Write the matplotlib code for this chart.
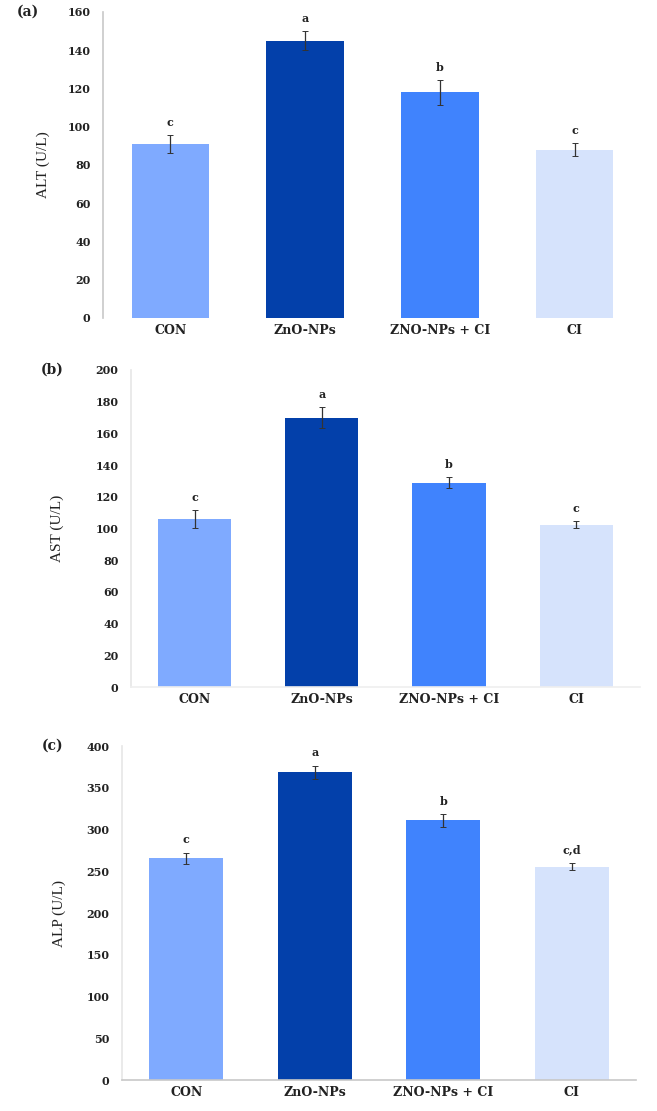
import matplotlib
matplotlib.use("Agg")
import matplotlib.pyplot as plt
import numpy as np

categories = ["CON", "ZnO-NPs", "ZNO-NPs + CI", "CI"]
colors = ["#7FAAFF", "#0340AA", "#4083FD", "#D6E3FC"]

alt_values = [91, 145, 118, 88]
alt_errors = [4.7, 5.0, 6.5, 3.5]
alt_letters = ["c", "a", "b", "c"]

ast_values = [106, 170, 129, 102.5]
ast_errors = [5.6, 6.5, 3.6, 2.0]
ast_letters = ["c", "a", "b", "c"]

alp_values = [265.5, 368.5, 311, 255.5]
alp_errors = [6.8, 8.0, 7.5, 4.5]
alp_letters = ["c", "a", "b", "c,d"]

plt.rcParams['font.family'] = ['Liberation Serif', 'DejaVu Serif']
WIDE = ['DejaVu Serif', 'Liberation Serif']

fig = plt.figure(figsize=(6.57, 11.11), dpi=100)

panels = [
    dict(rect=[0.1568, 0.7138, 0.8202, 0.2754], vals=alt_values, errs=alt_errors,
         letters=alt_letters, ylim=160, step=20, ylabel="ALT (U/L)", tag="(a)",
         bottom_color=None, spine_color="#C8C8C8", tag_x=0.025, ylabel_x=0.0757),
    dict(rect=[0.1994, 0.3816, 0.7746, 0.2854], vals=ast_values, errs=ast_errors,
         letters=ast_letters, ylim=200, step=20, ylabel="AST (U/L)", tag="(b)",
         bottom_color="#EFEFEF", spine_color="#E6E6E6", tag_x=0.062, ylabel_x=0.098),
    dict(rect=[0.1857, 0.0279, 0.7823, 0.3006], vals=alp_values, errs=alp_errors,
         letters=alp_letters, ylim=400, step=50, ylabel="ALP (U/L)", tag="(c)",
         bottom_color="#C8C8C8", spine_color="#E6E6E6", tag_x=0.064, ylabel_x=0.0998),
]

x = np.arange(len(categories))
for p in panels:
    ax = fig.add_axes(p["rect"])
    ax.bar(x, p["vals"], width=0.575, color=colors, edgecolor="none", zorder=2)
    ax.errorbar(x, p["vals"], yerr=p["errs"], fmt="none", ecolor="#333333",
                elinewidth=0.9, capsize=2, capthick=0.7, zorder=3)
    for xi, v, e, l in zip(x, p["vals"], p["errs"], p["letters"]):
        ax.text(xi, v + e + p["ylim"] * 0.022, l, ha="center", va="bottom",
                fontsize=8, fontweight="bold", color="#222222", family=WIDE)
    ax.set_xlim(-0.5, 3.5)
    ax.set_ylim(0, p["ylim"])
    ax.set_yticks(np.arange(0, p["ylim"] + 1, p["step"]))
    ax.set_xticks(x)
    ax.set_xticklabels(categories, fontsize=9, fontweight="bold", color="#222222",
                       family=WIDE)
    for lab in ax.get_yticklabels():
        lab.set_fontsize(8)
        lab.set_fontweight("bold")
        lab.set_color("#222222")
        lab.set_family(WIDE)
    ax.tick_params(axis="both", length=0)
    ax.tick_params(axis="y", pad=9)
    ax.tick_params(axis="x", pad=4)
    ax.spines["top"].set_visible(False)
    ax.spines["right"].set_visible(False)
    ax.spines["left"].set_color(p["spine_color"])
    ax.spines["left"].set_linewidth(1.2)
    if p["bottom_color"] is None:
        ax.spines["bottom"].set_visible(False)
    else:
        ax.spines["bottom"].set_color(p["bottom_color"])
        ax.spines["bottom"].set_linewidth(1.2)
    ax.set_ylabel(p["ylabel"], fontsize=11, color="#222222")
    bb = p["rect"]
    fig.text(p["tag_x"], bb[1] + bb[3], p["tag"], fontsize=10, fontweight="bold",
             ha="left", va="center", color="#222222", family=WIDE)
    ax.yaxis.set_label_coords(p["ylabel_x"], bb[1] + bb[3] / 2,
                              transform=fig.transFigure)

fig.savefig("out.png", dpi=100)
